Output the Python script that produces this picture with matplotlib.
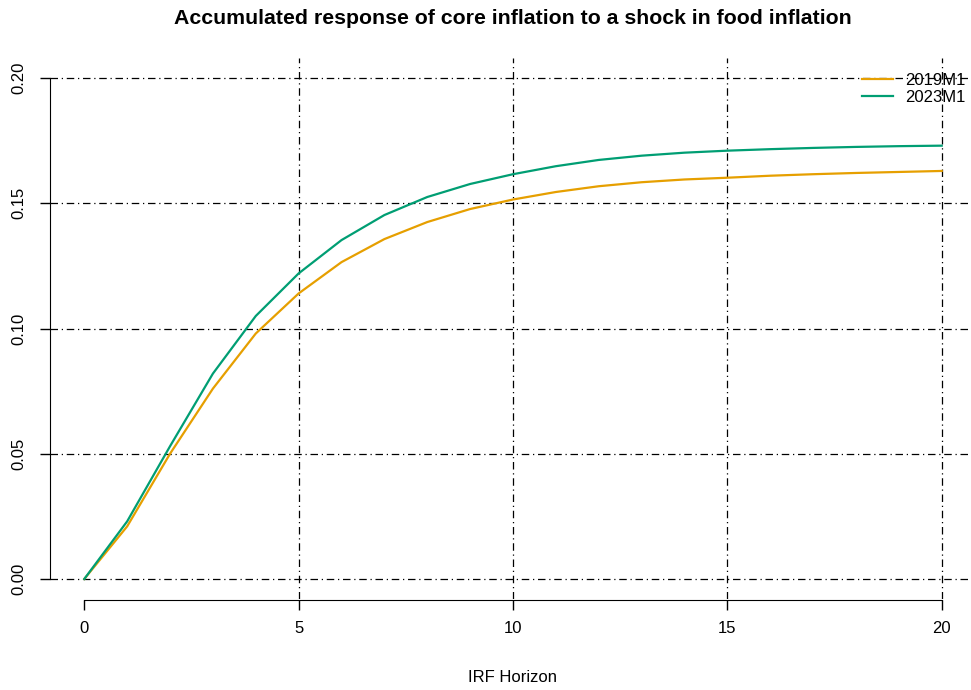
import matplotlib.pyplot as plt
import numpy as np

plt.rcParams['font.family'] = ['Liberation Sans', 'DejaVu Sans']

horizon = np.arange(21)
irf_2019 = [0.0, 0.021, 0.050, 0.076, 0.098, 0.114, 0.1265, 0.1357, 0.1425, 0.1477,
            0.1515, 0.1545, 0.1568, 0.1584, 0.1595, 0.1602, 0.1610, 0.1616, 0.1621,
            0.1625, 0.1629]
irf_2023 = [0.0, 0.023, 0.053, 0.082, 0.105, 0.122, 0.1353, 0.1453, 0.1525, 0.1577,
            0.1616, 0.1648, 0.1673, 0.1690, 0.1702, 0.1710, 0.1716, 0.1721, 0.1725,
            0.1728, 0.1730]
labels = ["2019M1", "2023M1"]
colors = ["#E69F00", "#009E73"]

fig = plt.figure(figsize=(9.71, 6.90), dpi=100)
ax = fig.add_axes([50 / 971, 91 / 690, 926 / 971, 541 / 690])

ax.set_xlim(-0.8, 20.8)
ax.set_ylim(-0.008, 0.208)

# grid (dot-dash, like R's lty="dotdash")
for yv in [0, 0.05, 0.10, 0.15, 0.20]:
    ax.axhline(yv, color="black", lw=0.9, ls=(0, (6, 3, 1, 3)), zorder=1)
for xv in [5, 10, 15, 20]:
    ax.axvline(xv, color="black", lw=0.9, ls=(0, (6, 3, 1, 3)), zorder=1)

ax.plot(horizon, irf_2019, color=colors[0], lw=1.6, label=labels[0], zorder=3)
ax.plot(horizon, irf_2023, color=colors[1], lw=1.6, label=labels[1], zorder=3)

for s in ["top", "right"]:
    ax.spines[s].set_visible(False)
ax.spines["left"].set_bounds(0, 0.20)
ax.spines["bottom"].set_bounds(0, 20)
ax.spines["bottom"].set_position(("outward", 1))

ax.set_xticks([0, 5, 10, 15, 20])
ax.set_yticks([0, 0.05, 0.10, 0.15, 0.20])
ax.set_yticklabels(["0.00", "0.05", "0.10", "0.15", "0.20"], rotation=90, va="center")
ax.tick_params(axis="both", length=7, width=1, labelsize=12, colors="black", pad=8)
ax.tick_params(axis="y", pad=10)

ax.set_xlabel("IRF Horizon", fontsize=12, labelpad=24)
fig.text(513 / 971, 1 - 18 / 690, "Accumulated response of core inflation to a shock in food inflation",
         ha="center", va="center", fontsize=15.3, fontweight="bold")

ax.legend(loc="upper right", bbox_to_anchor=(0.9954, 0.985), frameon=False, fontsize=12,
          handlelength=1.86, handletextpad=0.72, labelspacing=0.15, borderaxespad=0)

fig.savefig("out.png", dpi=100)
